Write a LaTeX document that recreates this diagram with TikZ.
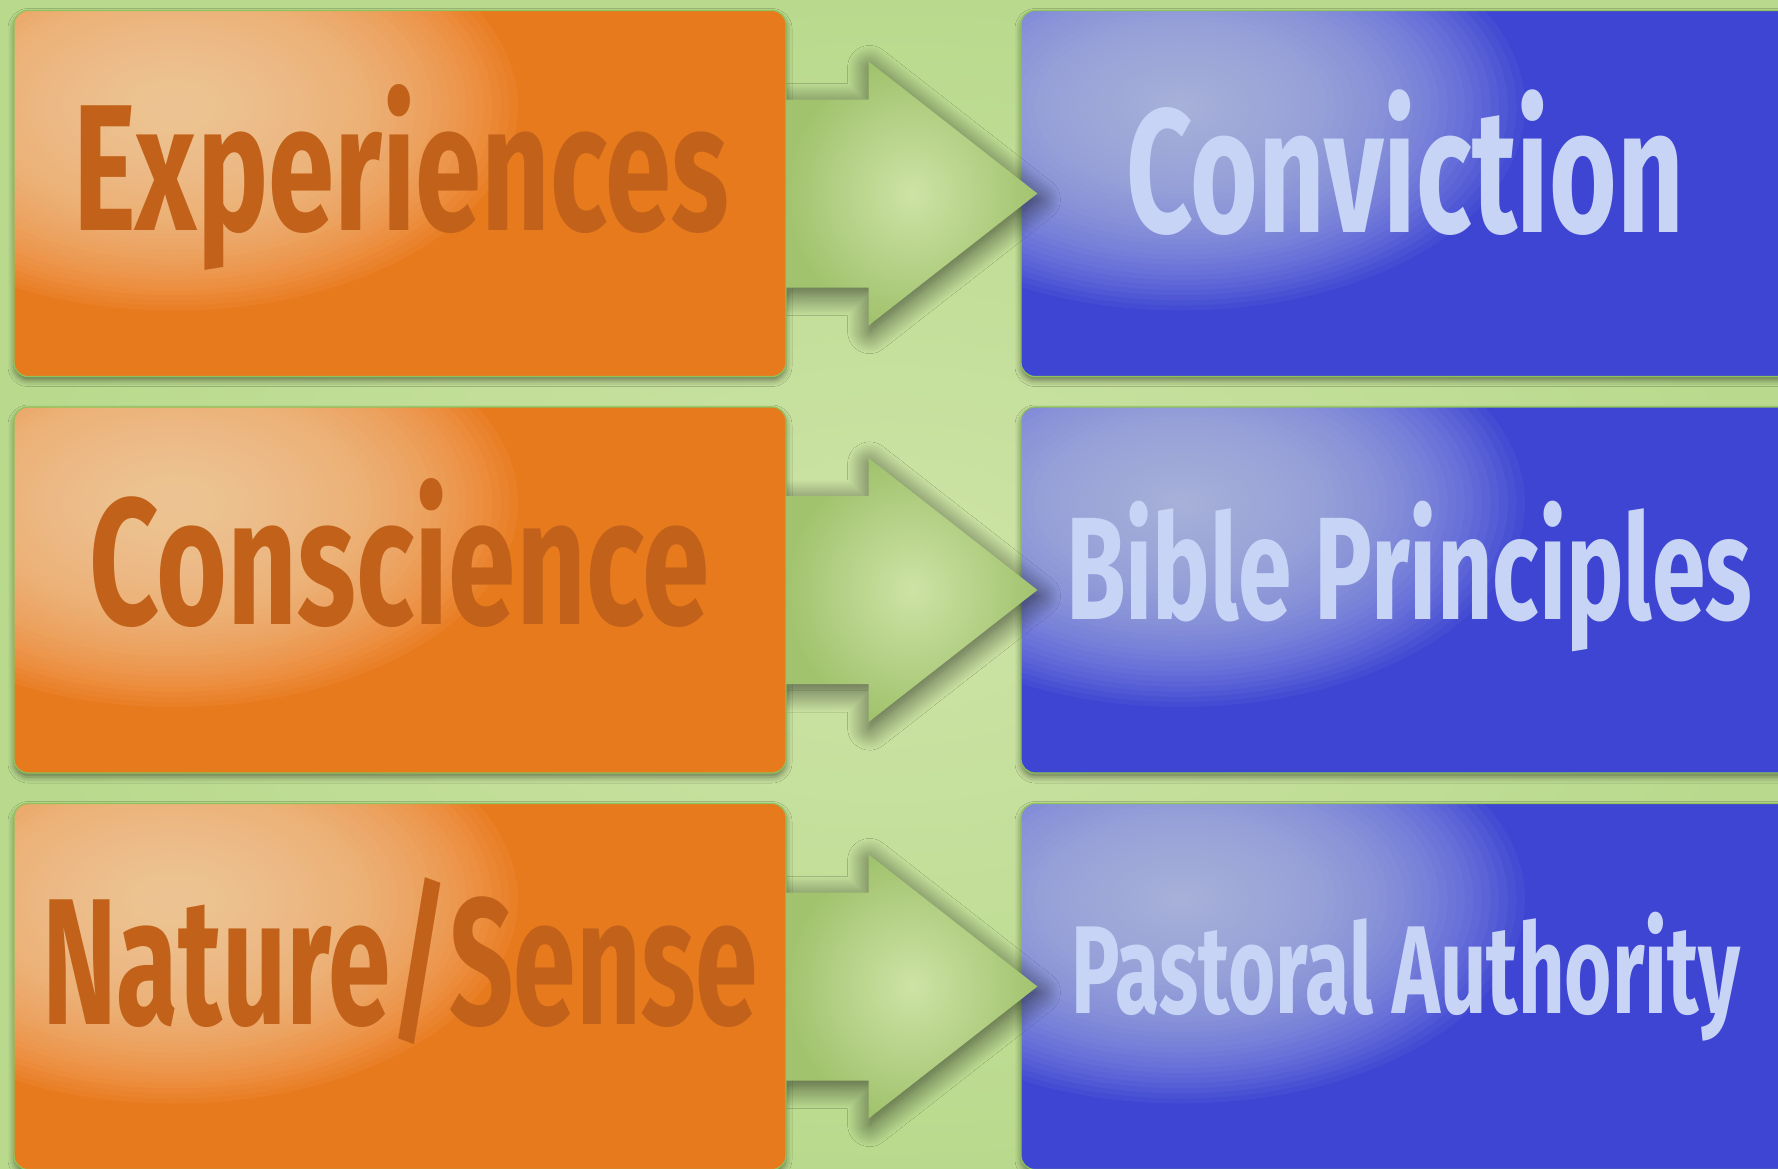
\documentclass[tikz,border=0pt]{standalone}
\usepackage{fontspec}
\usepackage{graphicx}
\usetikzlibrary{calc,shadows.blur}

\newfontfamily\dinfont{Fira Sans}

\definecolor{bglight}{HTML}{CDE3A6}
\definecolor{bgdark}{HTML}{B9DA8D}
\definecolor{boxedge}{HTML}{8DC35A}
\definecolor{boxorange}{HTML}{E87A1E}
\definecolor{orangehi}{HTML}{FCD2A6}
\definecolor{orangetext}{HTML}{C2621A}
\definecolor{boxblue}{HTML}{3D45D2}
\definecolor{bluehi}{HTML}{B8C2E8}
\definecolor{bluetext}{HTML}{C8D4F6}
\definecolor{arrowhi}{HTML}{CDE3A6}
\definecolor{arrowlo}{HTML}{A2C36E}

% label squeezed to a given width, like a condensed face
\newcommand{\fitlabel}[3]{\resizebox{#1}{\height}{\fontsize{#2}{#2}\selectfont\dinfont\bfseries #3}}

\tikzset{
  box/.style={rectangle, rounded corners=7pt, minimum width=386pt, minimum height=183pt,
    draw=boxedge, line width=0.6pt,
    blur shadow={shadow xshift=0pt, shadow yshift=-2pt, shadow blur radius=3pt, shadow opacity=45}},
  % soft glow near the top left corner
  glow/.style={path picture={\foreach \k in {1,...,40}
    \fill[#1, fill opacity=0.06] ([shift={(160,96)}]path picture bounding box.north west) ellipse ({4.3pt*\k} and {2.55pt*\k});}},
  sourcebox/.style={box, fill=boxorange, glow=orangehi},
  targetbox/.style={box, fill=boxblue, glow=bluehi},
  sourcetext/.style={text=orangetext, inner sep=0pt, anchor=base},
  targettext/.style={text=bluetext, inner sep=0pt, anchor=base},
  flowarrow/.style={inner color=arrowhi, outer color=arrowlo,
    blur shadow={shadow xshift=0.5pt, shadow yshift=-3pt, shadow blur radius=11pt, shadow blur steps=24, shadow opacity=65}}
}

\begin{document}
\begin{tikzpicture}[x=0.5pt, y=-0.5pt]
  \useasboundingbox (0,0) rectangle (1778,1168);
  \shade[inner color=bglight, outer color=bgdark] (0,0) rectangle (1778,1168);

  % left column
  \node[sourcebox] (exp) at (400,193.5) {};
  \node[sourcebox] (consc) at (400,590) {};
  \node[sourcebox] (nat) at (400,986.5) {};
  \node[sourcetext] (exp-label) at ($(exp.north)+(1,221)$) {\fitlabel{327.8pt}{90pt}{Experiences}};
  \node[sourcetext] (consc-label) at ($(consc.north)+(-1,218)$) {\fitlabel{310pt}{90pt}{Conscience}};
  \node[sourcetext] (nat-label) at ($(nat.north)+(0,222)$) {\fitlabel{357.8pt}{90pt}{Nature/Sense}};

  % right column
  \node[targetbox] (conv) at (1407,193.5) {};
  \node[targetbox] (bible) at (1407,590) {};
  \node[targetbox] (past) at (1407,986.5) {};
  \node[targettext] (conv-label) at ($(conv.north)+(-2,223)$) {\fitlabel{279pt}{88pt}{Conviction}};
  \node[targettext] (bible-label) at ($(bible.north)+(2,213)$) {\fitlabel{343pt}{73pt}{Bible Principles}};
  \node[targettext] (past-label) at ($(past.north)+(-1,211)$) {\fitlabel{334.5pt}{62.5pt}{Pastoral Authority}};

  % arrows, kept off the left column
  \begin{scope}
    \clip (exp.east |- 0,0) rectangle (1778,1168);
    \path[flowarrow] ($(exp.east)+(0,-94)$) -- ++(82,0) -- ++(0,-38) -- ($(conv.west)+(17,0)$)
      -- ($(exp.east)+(82,132)$) -- ++(0,-38) -- ($(exp.east)+(0,94)$) -- cycle;
    \path[flowarrow] ($(consc.east)+(0,-94)$) -- ++(82,0) -- ++(0,-38) -- ($(bible.west)+(17,0)$)
      -- ($(consc.east)+(82,132)$) -- ++(0,-38) -- ($(consc.east)+(0,94)$) -- cycle;
    \path[flowarrow] ($(nat.east)+(0,-94)$) -- ++(82,0) -- ++(0,-38) -- ($(past.west)+(17,0)$)
      -- ($(nat.east)+(82,132)$) -- ++(0,-38) -- ($(nat.east)+(0,94)$) -- cycle;
  \end{scope}
\end{tikzpicture}
\end{document}
